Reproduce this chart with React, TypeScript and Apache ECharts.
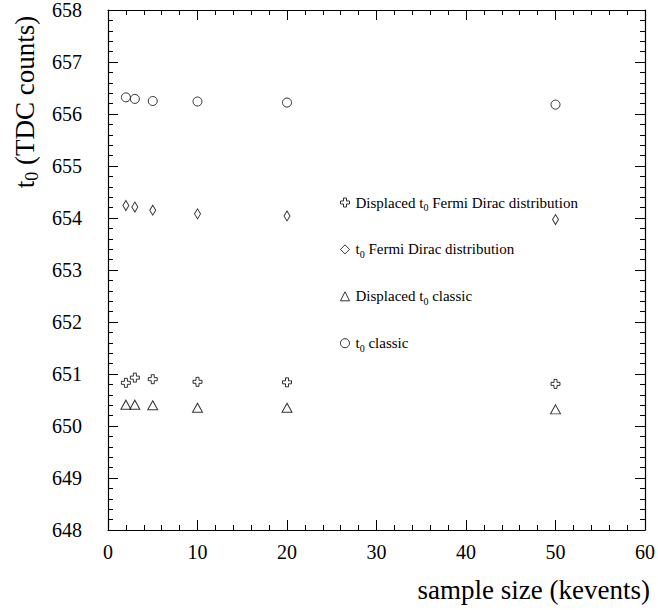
import React, { useEffect, useRef } from "react";
import * as echarts from "echarts";

const sampleSizes = [2, 3, 5, 10, 20, 50];
const t0Classic = [656.32, 656.29, 656.25, 656.24, 656.22, 656.18];
const t0FermiDirac = [654.24, 654.21, 654.15, 654.08, 654.04, 653.97];
const displacedFermiDirac = [650.83, 650.93, 650.9, 650.85, 650.84, 650.81];
const displacedClassic = [650.41, 650.41, 650.4, 650.35, 650.35, 650.32];

const seriesNames = [
  "Displaced t0 Fermi Dirac distribution",
  "t0 Fermi Dirac distribution",
  "Displaced t0 classic",
  "t0 classic",
];

const legendLabels: Record<string, string> = {
  "Displaced t0 Fermi Dirac distribution": "{g|}{n|Displaced t}{s|0}{n| Fermi Dirac distribution}",
  "t0 Fermi Dirac distribution": "{g|}{n|t}{s|0}{n| Fermi Dirac distribution}",
  "Displaced t0 classic": "{g|}{n|Displaced t}{s|0}{n| classic}",
  "t0 classic": "{g|}{n|t}{s|0}{n| classic}",
};

const FONT = "Liberation Serif";
const CROSS = "path://M3,0 L6,0 L6,3 L9,3 L9,6 L6,6 L6,9 L3,9 L3,6 L0,6 L0,3 L3,3 Z";

export default function App() {
  const ref = useRef<HTMLDivElement>(null);
  useEffect(() => {
    if (!ref.current) return;
    const chart = echarts.init(ref.current, undefined, { renderer: "svg" });
    const pts = (ys: number[]) => sampleSizes.map((x, i) => [x, ys[i]]);
    const markerStyle = { color: "#fff", borderColor: "#000", borderWidth: 1 };
    const grid = { left: 108, right: 11, top: 9.5, bottom: 80 };
    const axisCommon = {
      axisLine: { show: true, onZero: false, lineStyle: { color: "#000", width: 1.2 } },
      axisTick: { show: true, inside: true, length: 10, lineStyle: { color: "#000" } },
      minorTick: { show: true, splitNumber: 5, length: 5, lineStyle: { color: "#000" } },
      splitLine: { show: false },
    };
    chart.setOption({
      animation: false,
      backgroundColor: "#fff",
      grid,
      xAxis: [
        {
          type: "value",
          min: 0,
          max: 60,
          interval: 10,
          ...axisCommon,
          axisLabel: { color: "#000", fontFamily: FONT, fontSize: 20, margin: 12 },
        },
        {
          type: "value",
          position: "top",
          min: 0,
          max: 60,
          interval: 10,
          ...axisCommon,
          axisLabel: { show: false },
        },
      ],
      yAxis: [
        {
          type: "value",
          min: 648,
          max: 658,
          interval: 1,
          ...axisCommon,
          axisLabel: { color: "#000", fontFamily: FONT, fontSize: 20, margin: 26 },
        },
        {
          type: "value",
          position: "right",
          min: 648,
          max: 658,
          interval: 1,
          ...axisCommon,
          axisLabel: { show: false },
        },
      ],
      legend: {
        orient: "vertical",
        left: 335,
        top: 190,
        itemWidth: 9,
        itemHeight: 9,
        itemGap: 29.4,
        itemStyle: { color: "#fff", borderColor: "#000", borderWidth: 1 },
        data: seriesNames,
        formatter: (name: string) => legendLabels[name],
        textStyle: {
          color: "#000",
          fontFamily: FONT,
          fontSize: 15,
          rich: {
            g: { width: 1 },
            n: { fontFamily: FONT, fontSize: 15, lineHeight: 20, color: "#000" },
            s: { fontFamily: FONT, fontSize: 10, lineHeight: 10, verticalAlign: "bottom", color: "#000" },
          },
        },
      },
      series: [
        {
          name: seriesNames[0],
          type: "scatter",
          symbol: CROSS,
          symbolSize: 9,
          itemStyle: markerStyle,
          data: pts(displacedFermiDirac),
        },
        {
          name: seriesNames[1],
          type: "scatter",
          symbol: "diamond",
          symbolSize: [6, 10],
          itemStyle: markerStyle,
          data: pts(t0FermiDirac),
        },
        {
          name: seriesNames[2],
          type: "scatter",
          symbol: "triangle",
          symbolSize: [10, 9],
          itemStyle: markerStyle,
          data: pts(displacedClassic),
        },
        {
          name: seriesNames[3],
          type: "scatter",
          symbol: "circle",
          symbolSize: 9,
          itemStyle: markerStyle,
          data: pts(t0Classic),
        },
      ],
      graphic: [
        {
          type: "text",
          x: 25,
          y: 102,
          rotation: Math.PI / 2,
          style: {
            text: "{n|t}{s|0}{n| (TDC counts)}",
            align: "center",
            verticalAlign: "middle",
            fill: "#000",
            rich: {
              n: { fontFamily: FONT, fontSize: 27, lineHeight: 32, fill: "#000" },
              s: { fontFamily: FONT, fontSize: 18, lineHeight: 17, verticalAlign: "bottom", fill: "#000" },
            },
          },
        },
        {
          type: "text",
          x: 650,
          y: 590,
          style: {
            text: "sample size (kevents)",
            fill: "#000",
            fontFamily: FONT,
            fontSize: 27,
            align: "right",
            verticalAlign: "middle",
          },
        },
      ],
    });
    return () => chart.dispose();
  }, []);
  return (
    <div
      ref={ref}
      style={{ position: "fixed", left: 0, top: 0, width: 658, height: 610, background: "#fff" }}
    />
  );
}
